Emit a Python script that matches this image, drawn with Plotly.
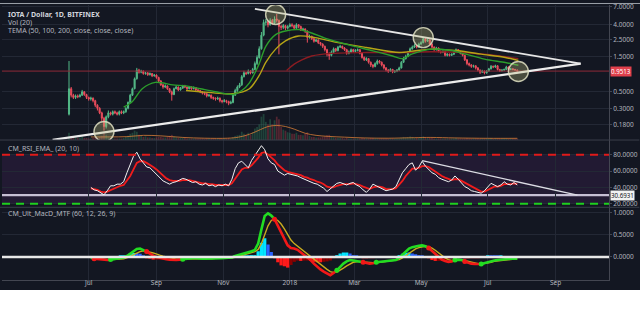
import numpy as np
import pandas as pd
import plotly.graph_objects as go

# ---------------- DATA ----------------
# IOTA / USD, Bitfinex - candles sampled every 2 days
candle_start = "2017-06-13"
first_open = 0.25
close = [
    0.55, 0.45, 0.42, 0.44, 0.43, 0.45, 0.50, 0.46, 0.42, 0.40,
    0.41, 0.38, 0.33, 0.30, 0.26, 0.22, 0.17, 0.23, 0.26, 0.25,
    0.27, 0.26, 0.25, 0.27, 0.26, 0.27, 0.30, 0.36, 0.45, 0.55,
    0.75, 0.98, 0.92, 0.95, 0.88, 0.90, 0.85, 0.88, 0.82, 0.84,
    0.78, 0.70, 0.62, 0.58, 0.60, 0.55, 0.50, 0.46, 0.55, 0.58,
    0.53, 0.56, 0.60, 0.58, 0.55, 0.58, 0.55, 0.57, 0.53, 0.52,
    0.50, 0.48, 0.47, 0.44, 0.45, 0.42, 0.41, 0.40, 0.41, 0.38,
    0.37, 0.38, 0.37, 0.35, 0.36, 0.45, 0.52, 0.58, 0.62, 0.80,
    0.90, 0.88, 0.95, 0.90, 1.00, 1.20, 1.45, 1.90, 2.90, 4.30,
    4.40, 4.00, 4.60, 4.20, 4.80, 4.60, 3.80, 3.70, 3.90, 3.60,
    3.80, 4.00, 3.90, 3.60, 4.00, 3.80, 3.40, 3.50, 3.30, 2.70,
    2.80, 2.60, 2.40, 2.50, 2.30, 2.20, 2.05, 1.85, 1.60, 1.55,
    1.70, 1.90, 1.80, 2.00, 2.05, 1.95, 1.85, 1.65, 1.72, 1.85,
    1.75, 1.80, 1.85, 1.65, 1.45, 1.35, 1.40, 1.25, 1.15, 1.10,
    1.20, 1.30, 1.25, 1.15, 1.05, 0.98, 0.95, 1.00, 0.93, 0.95,
    0.98, 1.05, 1.25, 1.40, 1.50, 1.70, 1.90, 2.00, 2.10, 2.00,
    2.20, 2.30, 2.60, 2.40, 2.50, 2.20, 2.00, 1.85, 1.95, 1.75,
    1.70, 1.75, 1.55, 1.60, 1.55, 1.60, 1.70, 1.85, 1.75, 1.65,
    1.55, 1.35, 1.20, 1.15, 1.10, 1.12, 1.05, 0.98, 0.92, 0.95,
    0.90, 0.95, 1.02, 1.10, 1.08, 1.12, 1.00, 0.96, 0.98, 1.00,
    1.08, 1.00, 1.02, 1.00, 0.98, 0.95]
high = [
    1.30, 0.58, 0.47, 0.46, 0.46, 0.47, 0.53, 0.51, 0.47, 0.43,
    0.43, 0.42, 0.39, 0.34, 0.31, 0.27, 0.23, 0.24, 0.28, 0.27,
    0.28, 0.28, 0.27, 0.28, 0.28, 0.28, 0.31, 0.37, 0.47, 0.57,
    0.78, 1.05, 1.02, 0.99, 0.97, 0.93, 0.92, 0.91, 0.89, 0.87,
    0.86, 0.80, 0.72, 0.64, 0.63, 0.61, 0.56, 0.52, 0.57, 0.61,
    0.59, 0.58, 0.62, 0.62, 0.59, 0.60, 0.59, 0.59, 0.58, 0.55,
    0.53, 0.51, 0.50, 0.48, 0.47, 0.46, 0.43, 0.42, 0.43, 0.42,
    0.39, 0.40, 0.39, 0.38, 0.38, 0.47, 0.55, 0.61, 0.66, 0.84,
    0.96, 0.93, 1.00, 0.98, 1.05, 1.28, 1.55, 2.05, 3.20, 4.70,
    4.80, 4.60, 4.90, 4.80, 5.20, 5.60, 4.70, 4.00, 4.10, 4.00,
    3.95, 4.20, 4.20, 4.00, 4.20, 4.10, 3.90, 3.65, 3.60, 3.35,
    2.95, 2.85, 2.65, 2.60, 2.55, 2.35, 2.25, 2.10, 1.90, 1.70,
    1.80, 1.98, 1.95, 2.08, 2.15, 2.10, 2.00, 1.90, 1.80, 1.92,
    1.90, 1.88, 1.92, 1.88, 1.70, 1.50, 1.46, 1.42, 1.28, 1.18,
    1.25, 1.36, 1.34, 1.28, 1.18, 1.08, 1.01, 1.04, 1.02, 0.98,
    1.01, 1.09, 1.30, 1.48, 1.58, 1.78, 1.98, 2.10, 2.20, 2.15,
    2.30, 2.40, 2.75, 2.65, 2.62, 2.55, 2.25, 2.05, 2.02, 1.98,
    1.80, 1.80, 1.78, 1.66, 1.64, 1.65, 1.76, 1.92, 1.88, 1.78,
    1.68, 1.58, 1.38, 1.24, 1.18, 1.16, 1.14, 1.08, 1.00, 0.99,
    0.97, 0.98, 1.05, 1.15, 1.13, 1.16, 1.14, 1.02, 1.01, 1.03,
    1.12, 1.10, 1.05, 1.04, 1.02, 1.00]
low = [
    0.24, 0.42, 0.40, 0.40, 0.41, 0.42, 0.44, 0.44, 0.40, 0.38,
    0.38, 0.36, 0.31, 0.28, 0.25, 0.20, 0.15, 0.16, 0.22, 0.24,
    0.24, 0.25, 0.24, 0.24, 0.25, 0.25, 0.26, 0.29, 0.35, 0.44,
    0.54, 0.73, 0.88, 0.89, 0.85, 0.85, 0.82, 0.83, 0.79, 0.80,
    0.75, 0.67, 0.60, 0.55, 0.56, 0.53, 0.48, 0.38, 0.45, 0.54,
    0.51, 0.52, 0.55, 0.56, 0.53, 0.54, 0.53, 0.54, 0.51, 0.50,
    0.48, 0.46, 0.45, 0.42, 0.43, 0.40, 0.39, 0.38, 0.39, 0.36,
    0.35, 0.36, 0.35, 0.33, 0.34, 0.35, 0.44, 0.50, 0.56, 0.60,
    0.78, 0.84, 0.86, 0.86, 0.88, 0.98, 1.15, 1.40, 1.85, 2.80,
    3.90, 3.70, 3.90, 4.00, 4.10, 4.30, 1.60, 3.40, 3.50, 3.40,
    3.45, 3.70, 3.70, 3.45, 3.50, 3.60, 3.30, 3.30, 3.10, 2.30,
    2.60, 2.50, 2.30, 2.35, 2.20, 2.10, 1.95, 1.75, 1.50, 1.35,
    1.50, 1.65, 1.72, 1.75, 1.95, 1.88, 1.78, 1.58, 1.60, 1.68,
    1.70, 1.70, 1.75, 1.60, 1.40, 1.30, 1.30, 1.20, 1.08, 1.04,
    1.07, 1.16, 1.20, 1.10, 1.00, 0.94, 0.90, 0.93, 0.89, 0.90,
    0.92, 0.96, 1.03, 1.22, 1.36, 1.46, 1.65, 1.85, 1.95, 1.92,
    1.95, 2.15, 2.25, 2.30, 2.35, 2.12, 1.92, 1.78, 1.80, 1.70,
    1.64, 1.66, 1.50, 1.50, 1.50, 1.52, 1.56, 1.66, 1.70, 1.60,
    1.50, 1.30, 1.14, 1.10, 1.05, 1.06, 1.00, 0.94, 0.87, 0.90,
    0.86, 0.88, 0.93, 1.00, 1.04, 1.05, 0.97, 0.93, 0.94, 0.95,
    0.98, 0.97, 0.98, 0.97, 0.95, 0.92]
volume = [
    14, 8, 6, 5, 4, 5, 7, 4, 4, 3,
    3, 4, 5, 5, 6, 8, 14, 10, 5, 4,
    3, 3, 3, 3, 3, 4, 6, 8, 12, 14,
    18, 16, 10, 8, 6, 7, 5, 5, 4, 4,
    5, 6, 6, 5, 5, 6, 8, 10, 7, 5,
    4, 4, 5, 4, 3, 3, 3, 3, 3, 3,
    3, 3, 3, 3, 3, 3, 3, 3, 3, 3,
    3, 3, 3, 4, 3, 6, 8, 9, 10, 16,
    12, 10, 14, 10, 15, 22, 25, 30, 45, 50,
    35, 30, 40, 30, 38, 45, 40, 25, 20, 18,
    15, 14, 12, 12, 14, 10, 10, 9, 12, 15,
    8, 6, 6, 5, 5, 5, 6, 7, 9, 10,
    6, 5, 4, 4, 4, 4, 3, 4, 3, 3,
    3, 3, 3, 3, 4, 4, 3, 3, 4, 4,
    3, 3, 3, 3, 3, 3, 3, 3, 3, 3,
    3, 3, 5, 6, 5, 6, 7, 6, 5, 4,
    5, 5, 7, 5, 4, 4, 4, 3, 3, 3,
    3, 3, 3, 3, 3, 3, 3, 4, 3, 3,
    3, 3, 4, 3, 3, 3, 3, 3, 3, 3,
    3, 3, 3, 4, 3, 3, 3, 3, 3, 3,
    3, 3, 3, 3, 3, 3]

vol_ma_dates = ["2017-07-03", "2017-07-20", "2017-08-05", "2017-08-20", "2017-09-05",
                "2017-09-25", "2017-10-15", "2017-11-05", "2017-11-15", "2017-11-25",
                "2017-12-05", "2017-12-12", "2017-12-20", "2017-12-28", "2018-01-05",
                "2018-01-15", "2018-01-25", "2018-02-05", "2018-02-20", "2018-03-10",
                "2018-04-01", "2018-04-25", "2018-05-10", "2018-06-01", "2018-07-01",
                "2018-07-28"]
vol_ma = [6, 6, 6.5, 9, 8, 5, 3.5, 3.5, 5.5, 11, 20, 26, 28, 26, 21, 13, 9, 7, 5.5, 4,
          3.5, 4.5, 5, 4, 3.3, 3.3]

tema50_dates = ["2017-08-02", "2017-08-10", "2017-08-19", "2017-08-31", "2017-09-16",
                "2017-09-28", "2017-10-11", "2017-10-25", "2017-11-10", "2017-11-18",
                "2017-11-25", "2017-12-04", "2017-12-10", "2017-12-19", "2017-12-28",
                "2018-01-09", "2018-01-21", "2018-02-02", "2018-02-24", "2018-03-18",
                "2018-04-05", "2018-04-14", "2018-04-23", "2018-05-11", "2018-05-29",
                "2018-06-10", "2018-06-28", "2018-07-17", "2018-07-29"]
tema50 = [0.31, 0.37, 0.55, 0.67, 0.62, 0.60, 0.55, 0.50, 0.46, 0.52, 0.66, 1.20, 2.05,
          2.95, 3.30, 3.45, 3.10, 2.65, 2.15, 1.78, 1.52, 1.40, 1.62, 1.88, 1.80, 1.62,
          1.38, 1.24, 1.14]
tema100_dates = ["2017-09-28", "2017-10-11", "2017-10-25", "2017-11-10", "2017-11-25",
                 "2017-12-04", "2017-12-10", "2017-12-19", "2017-12-28", "2018-01-09",
                 "2018-01-24", "2018-02-14", "2018-03-12", "2018-04-11", "2018-04-26",
                 "2018-05-11", "2018-06-04", "2018-06-25", "2018-07-17", "2018-07-29"]
tema100 = [0.52, 0.50, 0.48, 0.47, 0.55, 0.83, 1.25, 1.88, 2.43, 2.83, 2.69, 2.30, 1.98,
           1.69, 1.79, 1.88, 1.79, 1.61, 1.45, 1.32]
tema200_dates = ["2017-12-29", "2018-01-05", "2018-01-12", "2018-01-21", "2018-02-08",
                 "2018-03-12", "2018-04-11", "2018-05-11", "2018-06-10", "2018-07-10",
                 "2018-07-29"]
tema200 = [0.97, 1.18, 1.35, 1.52, 1.65, 1.69, 1.69, 1.73, 1.69, 1.53, 1.40]

last_price = 0.9513
circle_dates = ["2017-07-15", "2017-12-19", "2018-05-03", "2018-07-29"]
circle_prices = [0.146, 5.5, 2.69, 0.94]
lower_tl_dates = ["2017-05-29", "2018-09-24"]
lower_tl = [0.1127, 1.20]
upper_tl_dates = ["2017-11-30", "2018-09-24"]
upper_tl = [6.55, 1.20]

# indicators sampled every 3 days from 2017-07-03
ind_start = "2017-07-03"
rsi = [40, 37, 36, 33, 31, 36, 42, 42, 44, 44,
       47, 58, 68, 78, 83, 75, 70, 65, 64, 60,
       56, 51, 48, 46, 44, 46, 47, 49, 51, 50,
       48, 46, 47, 44, 43, 45, 42, 43, 41, 43, 42,
       44, 42, 50, 63, 70, 72, 68, 64, 73, 79,
       85, 91, 86, 75, 70, 68, 60, 57, 55, 57,
       56, 55, 54, 52, 50, 48, 47, 45, 44, 42,
       39, 35, 38, 42, 45, 46, 44, 43, 45, 46,
       43, 41, 37, 34, 38, 44, 42, 40, 38, 36,
       37, 38, 41, 50, 58, 63, 68, 70, 61, 65,
       72, 66, 62, 58, 56, 52, 50, 48, 47, 49,
       54, 50, 46, 41, 39, 36, 35, 34, 33, 36,
       40, 45, 43, 41, 43, 47, 44, 43, 46, 43]
rsi_ema = [39, 38, 37, 35, 34, 35, 37, 39, 40, 42,
           43, 48, 54, 62, 70, 72, 72, 70, 68, 65,
           62, 58, 54, 51, 49, 48, 48, 48, 49, 49,
           49, 48, 47, 46, 45, 45, 44, 44, 43, 43, 43,
           43, 43, 45, 51, 57, 62, 64, 64, 67, 71,
           76, 82, 83, 80, 77, 73, 68, 64, 61, 59,
           58, 57, 56, 55, 53, 52, 50, 49, 47, 46,
           44, 41, 40, 40, 42, 43, 44, 44, 44, 45,
           44, 43, 41, 39, 38, 40, 41, 41, 40, 38,
           38, 38, 39, 43, 48, 54, 59, 63, 63, 64,
           66, 66, 65, 62, 60, 57, 54, 52, 50, 49,
           50, 50, 48, 46, 43, 41, 39, 37, 35, 35,
           37, 40, 41, 41, 42, 44, 44, 44, 45, 44]
rsi_level = 30.6931
rsi_tl_dates = ["2018-05-02", "2018-09-21"]
rsi_tl = [72.8, 30.5]

macd = [-0.02, -0.04, -0.05, -0.06, -0.07, -0.07, -0.06, -0.05, -0.04, -0.03,
        -0.01, 0.02, 0.08, 0.14, 0.18, 0.19, 0.16, 0.12, 0.07, 0.03,
        0.00, -0.02, -0.04, -0.05, -0.06, -0.07, -0.07, -0.06, -0.05, -0.04,
        -0.03, -0.03, -0.03, -0.04, -0.04, -0.04, -0.04, -0.03, -0.03, -0.03, -0.03,
        -0.02, -0.02, -0.01, 0.02, 0.04, 0.06, 0.08, 0.10, 0.13, 0.16,
        0.30, 0.62, 0.92, 0.98, 0.93, 0.85, 0.70, 0.55, 0.42, 0.26,
        0.20, 0.19, 0.16, 0.10, 0.05, 0.00, -0.07, -0.15, -0.22, -0.28,
        -0.33, -0.38, -0.41, -0.36, -0.30, -0.22, -0.15, -0.10, -0.07, -0.08,
        -0.09, -0.10, -0.12, -0.14, -0.15, -0.14, -0.12, -0.11, -0.11, -0.10,
        -0.09, -0.08, -0.07, -0.02, 0.05, 0.12, 0.19, 0.22, 0.24, 0.25,
        0.26, 0.24, 0.20, 0.13, 0.06, 0.00, -0.06, -0.09, -0.11, -0.10,
        -0.07, -0.06, -0.07, -0.10, -0.13, -0.15, -0.16, -0.16, -0.16, -0.14,
        -0.11, -0.09, -0.08, -0.07, -0.06, -0.06, -0.05, -0.04, -0.04, -0.04]
signal = [-0.02, -0.03, -0.04, -0.05, -0.05, -0.06, -0.06, -0.06, -0.05, -0.05,
          -0.04, -0.02, 0.01, 0.05, 0.09, 0.12, 0.14, 0.13, 0.11, 0.09,
          0.06, 0.04, 0.02, 0.00, -0.02, -0.04, -0.05, -0.05, -0.05, -0.05,
          -0.04, -0.04, -0.04, -0.04, -0.04, -0.04, -0.04, -0.04, -0.03, -0.03, -0.03,
          -0.03, -0.02, -0.02, -0.01, 0.01, 0.03, 0.05, 0.07, 0.09, 0.12,
          0.17, 0.30, 0.50, 0.70, 0.82, 0.86, 0.82, 0.74, 0.63, 0.50,
          0.38, 0.30, 0.24, 0.19, 0.13, 0.08, 0.02, -0.04, -0.10, -0.16,
          -0.22, -0.28, -0.33, -0.35, -0.34, -0.30, -0.25, -0.20, -0.15, -0.12,
          -0.11, -0.10, -0.11, -0.12, -0.13, -0.13, -0.13, -0.12, -0.12, -0.11,
          -0.10, -0.09, -0.08, -0.06, -0.02, 0.03, 0.09, 0.14, 0.18, 0.21,
          0.23, 0.24, 0.23, 0.20, 0.15, 0.09, 0.03, -0.02, -0.06, -0.08,
          -0.08, -0.07, -0.07, -0.08, -0.10, -0.12, -0.14, -0.15, -0.16, -0.15,
          -0.14, -0.12, -0.10, -0.09, -0.08, -0.07, -0.06, -0.05, -0.05, -0.04]

price_ticks = [7, 4, 2.5, 1.5, 0.5, 0.3, 0.18]
price_labels = ["7.0000", "4.0000", "2.5000", "1.5000", "0.5000", "0.3000", "0.1800"]
rsi_ticks = [80, 60, 40, 20]
macd_ticks = [1.0, 0.5, 0.0]
month_ticks = ["2017-07-01", "2017-09-01", "2017-11-01", "2018-01-01",
               "2018-03-01", "2018-05-01", "2018-07-01", "2018-09-01"]
month_labels = ["Jul", "Sep", "Nov", "2018", "Mar", "May", "Jul", "Sep"]
x_range = ["2017-04-12 17:00", "2018-10-19 22:00"]

# ---------------- STYLE ----------------
BG = "#131722"
GRID = "#232835"
AXL = "#434651"
TXT = "#b2b5be"
UP = "#53b987"
DOWN = "#eb4d5c"
FONT = "Noto Sans"

n = min(len(close), len(high), len(low), len(volume))
cdates = pd.date_range(candle_start, periods=n, freq="2D")
opens = [first_open] + close[:n - 1]
is_up = [close[i] >= opens[i] for i in range(n)]

m_ind = min(len(rsi), len(rsi_ema), len(macd), len(signal))
idates = pd.date_range(ind_start, periods=m_ind, freq="3D")

fig = go.Figure()

# volume (base axis y, hidden)
fig.add_trace(go.Bar(
    x=cdates, y=volume[:n], xaxis="x", yaxis="y",
    width=2 * 86400000 * 0.8,
    marker=dict(color=["rgba(60,160,110,0.32)" if u else "rgba(220,70,85,0.32)" for u in is_up],
                line=dict(width=0)),
    hoverinfo="skip"))
fig.add_trace(go.Scatter(
    x=pd.to_datetime(vol_ma_dates), y=vol_ma, xaxis="x", yaxis="y", mode="lines",
    line=dict(color="rgba(215,125,55,0.8)", width=1, shape="spline"), hoverinfo="skip"))

# price line
fig.add_trace(go.Scatter(x=pd.to_datetime(x_range), y=[last_price, last_price],
                         xaxis="x", yaxis="y2", mode="lines",
                         line=dict(color="#8e2a38", width=1), hoverinfo="skip"))

# candles
fig.add_trace(go.Candlestick(
    x=cdates, open=opens, high=high[:n], low=low[:n], close=close[:n],
    xaxis="x", yaxis="y2", whiskerwidth=0,
    increasing=dict(line=dict(color=UP, width=1), fillcolor=UP),
    decreasing=dict(line=dict(color=DOWN, width=1), fillcolor=DOWN),
    hoverinfo="skip"))

# TEMA lines
for d, v, c in [(tema200_dates, tema200, "#8c1c22"),
                (tema100_dates, tema100, "#b5a416"),
                (tema50_dates, tema50, "#2c9e2c")]:
    fig.add_trace(go.Scatter(x=pd.to_datetime(d), y=v, xaxis="x", yaxis="y2", mode="lines",
                             line=dict(color=c, width=1.4, shape="spline", smoothing=0.8),
                             hoverinfo="skip"))

# triangle trend lines
fig.add_trace(go.Scatter(x=pd.to_datetime(lower_tl_dates), y=lower_tl, xaxis="x", yaxis="y2",
                         mode="lines", line=dict(color="#ececec", width=2.3), hoverinfo="skip"))
fig.add_trace(go.Scatter(x=pd.to_datetime(upper_tl_dates), y=upper_tl, xaxis="x", yaxis="y2",
                         mode="lines", line=dict(color="#e6e6e6", width=1.8), hoverinfo="skip"))

# highlight circles
fig.add_trace(go.Scatter(x=pd.to_datetime(circle_dates), y=circle_prices, xaxis="x", yaxis="y2",
                         mode="markers",
                         marker=dict(size=20, color="rgba(185,185,120,0.33)",
                                     line=dict(color="rgba(225,225,195,0.85)", width=1.4)),
                         hoverinfo="skip"))

# RSI panel
fig.add_trace(go.Scatter(x=idates, y=rsi_ema[:m_ind], xaxis="x", yaxis="y3", mode="lines",
                         line=dict(color="#f01c1c", width=1.8), hoverinfo="skip"))
fig.add_trace(go.Scatter(x=idates, y=rsi[:m_ind], xaxis="x", yaxis="y3", mode="lines",
                         line=dict(color="#f2f2f2", width=1), hoverinfo="skip"))
fig.add_trace(go.Scatter(x=pd.to_datetime(rsi_tl_dates), y=rsi_tl, xaxis="x", yaxis="y3",
                         mode="lines", line=dict(color="#dcdce4", width=1.3), hoverinfo="skip"))

# MACD panel
mv = np.array(macd[:m_ind])
sv = np.array(signal[:m_ind])
hist = mv - sv
hcol = []
for i, h in enumerate(hist):
    prev = hist[i - 1] if i > 0 else 0
    if h >= 0:
        hcol.append("#00e5ff" if h >= prev else "#2962ff")
    else:
        hcol.append("#ff1a1a" if h < prev else "#8b0000")
fig.add_trace(go.Bar(x=idates, y=hist, xaxis="x", yaxis="y4", width=3 * 86400000,
                     marker=dict(color=hcol, line=dict(width=0)), hoverinfo="skip"))
fig.add_trace(go.Scatter(x=idates, y=sv, xaxis="x", yaxis="y4", mode="lines",
                         line=dict(color="#c8aa1e", width=1.4), hoverinfo="skip"))
above = mv >= sv
runs = []
start = 0
for i in range(1, m_ind + 1):
    if i == m_ind or above[i] != above[start]:
        runs.append((start, i))
        start = i
dot_x, dot_y, dot_c = [], [], []
for k, (a, b) in enumerate(runs):
    col = "#22dd22" if above[a] else "#f21818"
    e = min(b + 1, m_ind)
    fig.add_trace(go.Scatter(x=idates[a:e], y=mv[a:e], xaxis="x", yaxis="y4", mode="lines",
                             line=dict(color=col, width=2.6), hoverinfo="skip"))
    if k > 0:
        dot_x.append(idates[a]); dot_y.append(mv[a]); dot_c.append(col)
fig.add_trace(go.Scatter(x=dot_x, y=dot_y, xaxis="x", yaxis="y4", mode="markers",
                         marker=dict(size=5, color=dot_c), hoverinfo="skip"))

# ---------------- LAYOUT ----------------
D1 = 0.509   # price / rsi boundary
D2 = 0.2644  # rsi / macd boundary

def yax(**kw):
    base = dict(side="right", anchor="x", showgrid=True, gridcolor=GRID, gridwidth=1,
                zeroline=False, showline=True, linecolor=AXL, linewidth=1,
                ticks="outside", ticklen=2, tickcolor=AXL, ticklabeloverflow="allow",
                tickfont=dict(size=6.5, color=TXT, family=FONT), fixedrange=True)
    base.update(kw)
    return base

fig.update_layout(
    width=640, height=312,
    margin=dict(l=2, r=27, t=2, b=32),
    paper_bgcolor=BG, plot_bgcolor=BG,
    showlegend=False,
    font=dict(family=FONT, size=7, color=TXT),
    xaxis=dict(type="date", range=x_range, anchor="y4", domain=[0, 1],
               tickvals=month_ticks, ticktext=month_labels,
               showgrid=True, gridcolor=GRID, zeroline=False,
               showline=True, linecolor=AXL, ticks="outside", ticklen=2, tickcolor=AXL,
               ticklabelstandoff=-6,
               tickfont=dict(size=6.5, color=TXT, family=FONT),
               rangeslider=dict(visible=False), fixedrange=True),
    yaxis=dict(domain=[D1, 1], range=[0, 260], visible=False, showgrid=False,
               fixedrange=True, anchor="x"),
    yaxis2=yax(overlaying="y", type="log", range=[-0.951, 0.869],
               tickvals=price_ticks, ticktext=price_labels),
    yaxis3=yax(domain=[D2, D1], range=[15.75, 97.9], tickvals=rsi_ticks, tickformat=".4f"),
    yaxis4=yax(domain=[0, D2], range=[-0.518, 1.116], tickvals=macd_ticks, tickformat=".4f"),
)

shapes = [
    dict(type="rect", xref="paper", yref="y3", x0=0, x1=1, y0=20, y1=80,
         fillcolor="#221a33", line=dict(width=0), layer="below"),
    dict(type="line", xref="paper", yref="y3", x0=0, x1=1, y0=80, y1=80,
         line=dict(color="#e01a1a", width=2, dash="8px,6px")),
    dict(type="line", xref="paper", yref="y3", x0=0, x1=1, y0=20, y1=20,
         line=dict(color="#1ed01e", width=2, dash="8px,6px")),
    dict(type="line", xref="paper", yref="y3", x0=0, x1=1, y0=rsi_level, y1=rsi_level,
         line=dict(color="#c6bfd4", width=2.2), layer="below"),
    dict(type="line", xref="paper", yref="y4", x0=0, x1=1, y0=0, y1=0,
         line=dict(color="#e8e8e8", width=2.4)),
    dict(type="line", xref="paper", yref="paper", x0=-0.004, x1=1.05, y0=D1, y1=D1,
         line=dict(color="#3a3f4b", width=1)),
    dict(type="line", xref="paper", yref="paper", x0=-0.004, x1=1.05, y0=D2, y1=D2,
         line=dict(color="#3a3f4b", width=1)),
    dict(type="rect", xref="paper", yref="paper", x0=-0.02, x1=1.08, y0=-0.25, y1=-0.036,
         fillcolor="#ffffff", line=dict(width=0), layer="above"),
    dict(type="line", xref="paper", yref="paper", x0=-0.01, x1=1.06, y0=1.0055, y1=1.0055,
         line=dict(color="#9aa0a8", width=1)),
]
fig.update_layout(shapes=shapes)

ann = [
    dict(text="<b>IOTA / Dollar, 1D, BITFINEX</b>", x=0.0065, y=0.965, size=7, color="#d1d4dc"),
    dict(text="Vol (20)", x=0.0065, y=0.935, size=7, color=TXT),
    dict(text="TEMA (50, 100, 200, close, close, close)", x=0.0065, y=0.909, size=7, color=TXT),
    dict(text="CM_RSI_EMA_ (20, 10)", x=0.0065, y=0.4795, size=7, color=TXT),
    dict(text="CM_Ult_MacD_MTF (60, 12, 26, 9)", x=0.0065, y=0.241, size=7, color=TXT),
]
annotations = [dict(text=a["text"], xref="paper", yref="paper", x=a["x"], y=a["y"],
                    xanchor="left", yanchor="middle", showarrow=False,
                    font=dict(size=a["size"], color=a["color"], family=FONT)) for a in ann]
annotations.append(dict(text=f"{last_price:.4f}", xref="paper", yref="y2", x=1.0, xshift=1,
                        y=float(np.log10(last_price)), xanchor="left", yanchor="middle",
                        showarrow=False, bgcolor="#e0404c", borderpad=0,
                        font=dict(size=6.2, color="#ffffff", family=FONT)))
annotations.append(dict(text=f"{rsi_level:.4f}", xref="paper", yref="y3", x=1.0, xshift=1,
                        y=rsi_level, xanchor="left", yanchor="middle",
                        showarrow=False, bgcolor="#f2f2f2", borderpad=0,
                        font=dict(size=6.2, color="#131722", family=FONT)))
fig.update_layout(annotations=annotations)

fig.write_html("out.html")
